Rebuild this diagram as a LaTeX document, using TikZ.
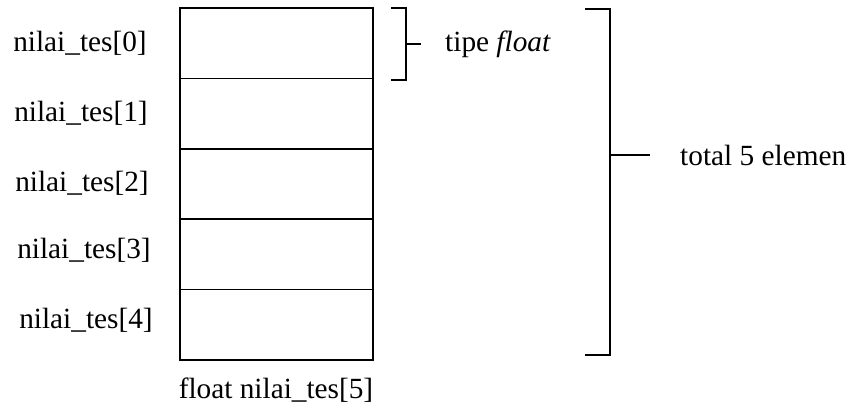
\documentclass[tikz,border=0pt]{standalone}
\usepackage{fontspec}
\setmainfont{Liberation Serif}
\usetikzlibrary{positioning}

\tikzset{
  cell/.style={draw, line width=1.5pt, minimum width=193*0.03cm, minimum height=70.4*0.03cm, inner sep=0pt, outer sep=0pt},
  lbl/.style={inner sep=0pt, font=\fontsize{25}{30}\selectfont},
  brace/.style={line width=0.9pt}
}

\begin{document}
\begin{tikzpicture}[x=0.03cm, y=-0.03cm]
    \useasboundingbox (0,0) rectangle (853,413);

    % Draw the cells of the array
    \foreach \i in {0,...,4} {
        \node[cell] (c\i) at (276.5, {8+35.2+70.4*\i}) {};
    }

    % Label each element
    \node[lbl] (l0) at (80,43) {nilai\_tes[0]};
    \node[lbl] (l1) at (81,113) {nilai\_tes[1]};
    \node[lbl] (l2) at (82,183) {nilai\_tes[2]};
    \node[lbl] (l3) at (84,250) {nilai\_tes[3]};
    \node[lbl] (l4) at (86,320) {nilai\_tes[4]};

    % Name of the array below
    \node[lbl] (decl) at (276,390) {float nilai\_tes[5]};

    % Small bracket for one element
    \coordinate (s1) at (391,8);
    \coordinate (s2) at (406,8);
    \coordinate (s3) at (406,80);
    \coordinate (s4) at (391,80);
    \coordinate (sm) at (406,44);
    \coordinate (st) at (421,44);
    \draw[brace] (s1) -- (s2) -- (s3) -- (s4);
    \draw[brace] (sm) -- (st);
    \node[lbl, anchor=west] (tipe) at (445,44) {tipe \textit{float}};

    % Big bracket for the whole array
    \coordinate (b1) at (585,9);
    \coordinate (b2) at (610,9);
    \coordinate (b3) at (610,355);
    \coordinate (b4) at (585,355);
    \coordinate (bm) at (610,155);
    \coordinate (bt) at (650,155);
    \draw[brace] (b1) -- (b2) -- (b3) -- (b4);
    \draw[brace] (bm) -- (bt);
    \node[lbl, anchor=west] (total) at (680,155) {total 5 elemen};

\end{tikzpicture}
\end{document}
